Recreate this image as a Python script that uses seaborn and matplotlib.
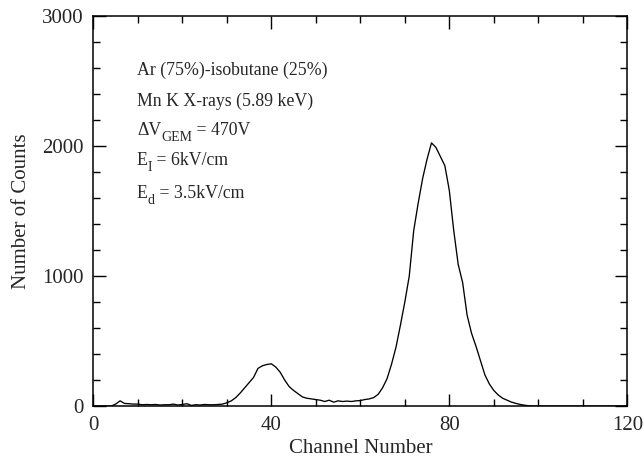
import matplotlib
matplotlib.use("Agg")
import matplotlib.pyplot as plt
from matplotlib.ticker import MultipleLocator
import seaborn as sns
import pandas as pd

channels = list(range(0, 121))
counts = [0, 0, 0, 0, 0, 15, 40, 20, 18, 15,
          15, 10, 12, 10, 12, 8, 10, 10, 15, 8,
          12, 18, 5, 10, 8, 12, 10, 10, 12, 15,
          25, 40, 65, 100, 140, 180, 220, 290, 310, 320,
          325, 300, 260, 200, 150, 120, 95, 70, 60, 55,
          50, 45, 35, 45, 30, 40, 35, 38, 35, 40,
          42, 50, 55, 65, 90, 140, 210, 320, 450, 620,
          800, 1000, 1350, 1560, 1750, 1900, 2025, 1990, 1920, 1850,
          1660, 1350, 1090, 950, 700, 560, 460, 350, 240, 170,
          120, 85, 60, 45, 30, 20, 12, 6, 2, 0] + [0] * 21

xticks = [0, 40, 80, 120]
yticks = [0, 1000, 2000, 3000]
# (main text, subscript, rest)
annotations = [("Ar (75%)-isobutane (25%)", "", ""),
               ("Mn K X-rays (5.89 keV)", "", ""),
               ("\u0394V", "GEM", " = 470V"),
               ("E", "I", " = 6kV/cm"),
               ("E", "d", " = 3.5kV/cm")]

sns.set_style("ticks")
plt.rcParams["font.family"] = ["Liberation Serif", "DejaVu Serif"]

df = pd.DataFrame({"Channel Number": channels, "Number of Counts": counts})

fig = plt.figure(figsize=(6.44, 4.63), dpi=100)
ax = fig.add_axes([0.145, 0.123, 0.829, 0.842])
sns.lineplot(data=df, x="Channel Number", y="Number of Counts", ax=ax,
             color="black", linewidth=0.95)

ax.set_xlim(0, 120)
ax.set_ylim(0, 3000)
ax.set_xticks(xticks)
ax.set_yticks(yticks)
ax.xaxis.set_minor_locator(MultipleLocator(10))
ax.yaxis.set_minor_locator(MultipleLocator(200))
ax.tick_params(which="both", direction="in", top=True, right=True,
               labelsize=15, width=1, color="black")
ax.tick_params(which="major", length=9, pad=7)
ax.tick_params(which="minor", length=5)
for s in ax.spines.values():
    s.set_visible(True)
    s.set_linewidth(1.1)
    s.set_color("black")

ax.set_xlabel("Channel Number", fontsize=15, labelpad=3)
ax.set_ylabel("Number of Counts", fontsize=15, labelpad=8)

fs = 12.8
ypos = [0.862, 0.782, 0.708, 0.631, 0.546]
for (main, sub, rest), yp in zip(annotations, ypos):
    t1 = ax.text(0.0815, yp, main, transform=ax.transAxes, fontsize=fs,
                 va="center", ha="left")
    if sub:
        t2 = ax.annotate(sub, xy=(1, 0), xycoords=t1, xytext=(0, -4),
                         textcoords="offset points", fontsize=fs * 0.78,
                         va="bottom", ha="left")
        ax.annotate(rest, xy=(1, 0), xycoords=(t2, t1), fontsize=fs,
                    va="bottom", ha="left")

fig.savefig("out.png", dpi=100)
